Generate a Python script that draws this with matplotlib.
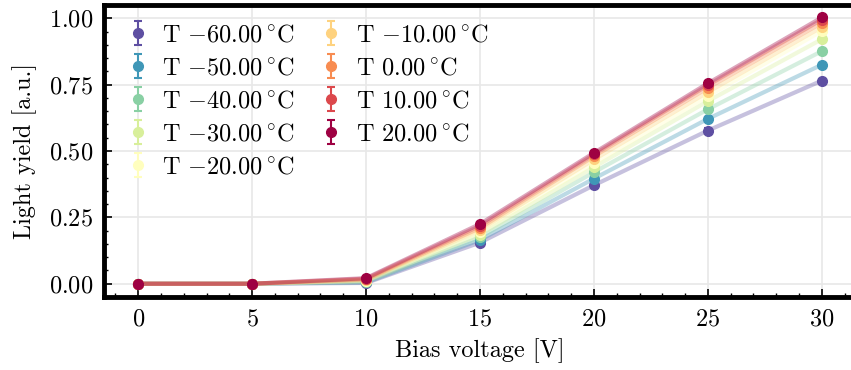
import numpy as np
import matplotlib
matplotlib.use("Agg")
import matplotlib.pyplot as plt
from matplotlib.ticker import MultipleLocator

plt.rcParams['font.family'] = 'serif'
plt.rcParams['font.serif'] = ['cmr10']
plt.rcParams['mathtext.fontset'] = 'cm'
plt.rcParams['axes.formatter.use_mathtext'] = True
plt.rcParams['font.size'] = 17.5

voltage = [0, 5, 10, 15, 20, 25, 30]
temps = [-60, -50, -40, -30, -20, -10, 0, 10, 20]
yields = {
    -60: [0.0, 0.0, 0.003, 0.155, 0.371, 0.577, 0.765],
    -50: [0.0, 0.0, 0.005, 0.165, 0.396, 0.621, 0.825],
    -40: [0.0, 0.0, 0.007, 0.175, 0.420, 0.657, 0.876],
    -30: [0.0, 0.0, 0.010, 0.185, 0.439, 0.688, 0.921],
    -20: [0.0, 0.0, 0.012, 0.195, 0.453, 0.707, 0.952],
    -10: [0.0, 0.0, 0.014, 0.203, 0.468, 0.722, 0.967],
    0:   [0.0, 0.0, 0.016, 0.210, 0.480, 0.738, 0.983],
    10:  [0.0, 0.0, 0.019, 0.218, 0.487, 0.748, 0.995],
    20:  [0.0, 0.0, 0.021, 0.225, 0.493, 0.755, 1.003],
}
err = 0.008

fig = plt.figure(figsize=(8.51, 3.70), dpi=100)
ax = fig.add_axes([104 / 851, 1 - 297 / 370, 752 / 851, 292 / 370])

cmap = plt.get_cmap('Spectral_r')
colors = [cmap(i / (len(temps) - 1)) for i in range(len(temps))]

for t, c in zip(temps, colors):
    if t < 0:
        lab = r'T $-%.2f\,^{\circ}$C' % abs(t)
    else:
        lab = r'T $%.2f\,^{\circ}$C' % t
    ax.plot(voltage, yields[t], color=c, alpha=0.35, linewidth=3, zorder=2)
    ax.errorbar(voltage, yields[t], yerr=err, fmt='o', color=c, markersize=7,
                capsize=3, elinewidth=1.5, capthick=1.5, zorder=3, label=lab)

ax.set_xlim(-1.5, 31.5)
ax.set_ylim(-0.05, 1.05)
ax.xaxis.set_major_locator(MultipleLocator(5))
ax.xaxis.set_minor_locator(MultipleLocator(1))
ax.yaxis.set_major_locator(MultipleLocator(0.25))
ax.yaxis.set_minor_locator(MultipleLocator(0.05))
ax.tick_params(which='both', direction='in', top=False, right=False)
ax.tick_params(which='major', length=6, width=1.2, pad=8)
ax.tick_params(which='minor', length=3, width=1)
for s in ax.spines.values():
    s.set_linewidth(3.5)
ax.grid(True, color='#e8e8e8', linewidth=1.2)
ax.set_axisbelow(True)

ax.set_xlabel('Bias voltage [V]', labelpad=6)
ax.set_ylabel('Light yield [a.u.]', labelpad=8)
ax.legend(loc='upper left', ncol=2, frameon=False, handletextpad=0.4,
          columnspacing=0.9, labelspacing=0.45, borderaxespad=0.4,
          handlelength=1.2)

fig.savefig('out.png', dpi=100)
